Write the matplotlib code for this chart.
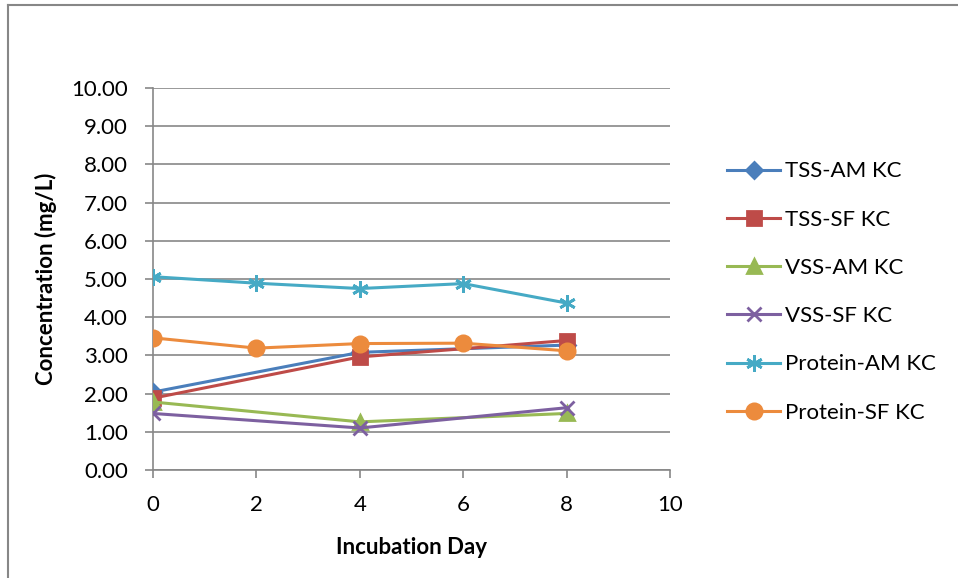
import matplotlib
matplotlib.use("Agg")
import matplotlib.pyplot as plt
from matplotlib.lines import Line2D

plt.rcParams['font.family'] = ['Lato', 'DejaVu Sans']

# Data
days_full = [0, 2, 4, 6, 8]
days_tss = [0, 4, 8]
tss_am = [2.04, 3.08, 3.27]
tss_sf = [1.88, 2.96, 3.39]
vss_am = [1.78, 1.26, 1.48]
vss_sf = [1.48, 1.10, 1.63]
protein_am = [5.06, 4.89, 4.75, 4.88, 4.37]
protein_sf = [3.46, 3.19, 3.31, 3.32, 3.12]

labels = ['TSS-AM KC', 'TSS-SF KC', 'VSS-AM KC', 'VSS-SF KC',
          'Protein-AM KC', 'Protein-SF KC']
series = [(days_tss, tss_am), (days_tss, tss_sf), (days_tss, vss_am),
          (days_tss, vss_sf), (days_full, protein_am), (days_full, protein_sf)]
colors = ['#4A7EBB', '#BE4B48', '#98B954', '#7D60A0', '#46AAC5', '#EC8B3D']
markers = ['D', 's', '^', 'x', (6, 2, 0), 'o']
msizes = [8, 10, 10, 10, 12, 11]

grey = '#878787'

fig = plt.figure(figsize=(9.58, 5.78), dpi=100)
ax = fig.add_axes([153 / 958, 1 - 470 / 578, (670 - 153) / 958, (470 - 88) / 578])

for (x, y), lab, c, m, ms in zip(series, labels, colors, markers, msizes):
    ax.plot(x, y, color=c, lw=2.2, marker=m, ms=ms, mfc=c, mec=c, mew=2,
            label=lab, zorder=3)

ax.set_xlim(0, 10)
ax.set_ylim(0, 10)
ax.set_xticks(range(0, 11, 2))
ax.set_yticks(range(0, 11))
ax.set_yticklabels([f'{v:.2f}' for v in range(0, 11)])
ax.grid(axis='y', color=grey, lw=1.2, zorder=0)
ax.set_axisbelow(True)
for s in ['top', 'right']:
    ax.spines[s].set_visible(False)
for s in ['left', 'bottom']:
    ax.spines[s].set_color(grey)
    ax.spines[s].set_linewidth(1.2)
ax.tick_params(direction='out', length=6, width=1.2, color=grey,
               labelsize=16, pad=12)
ax.tick_params(axis='x', pad=12)

ax.set_xlabel('Incubation Day', fontsize=16, fontweight='bold', labelpad=16)
ax.set_ylabel('Concentration (mg/L)', fontsize=16, fontweight='bold', labelpad=10)

fig.legend(loc='center left', bbox_to_anchor=(718 / 958, 1 - 292 / 578),
           frameon=False, fontsize=16, handlelength=2.4, handletextpad=0.2,
           labelspacing=1.27, borderaxespad=0)

# outer chart frame
fig.add_artist(Line2D([8 / 958, 8 / 958], [0, 1 - 5 / 578], color=grey, lw=1.5,
                      transform=fig.transFigure))
fig.add_artist(Line2D([8 / 958, 1], [1 - 5 / 578, 1 - 5 / 578], color=grey, lw=1.5,
                      transform=fig.transFigure))

fig.savefig('out.png', dpi=100)
